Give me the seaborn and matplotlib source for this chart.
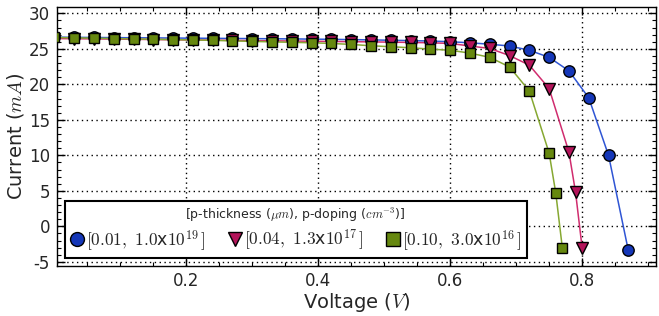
import numpy as np
import pandas as pd
import matplotlib
matplotlib.use("Agg")
import matplotlib.pyplot as plt
from matplotlib.lines import Line2D
from matplotlib.ticker import MultipleLocator
import seaborn as sns

# ================= DATA =================
V_BASE = [0.00, 0.03, 0.06, 0.09, 0.12, 0.15, 0.18, 0.21, 0.24, 0.27, 0.30, 0.33,
          0.36, 0.39, 0.42, 0.45, 0.48, 0.51, 0.54, 0.57, 0.60, 0.63, 0.66, 0.69,
          0.72, 0.75]

v_blue = V_BASE + [0.78, 0.81, 0.84, 0.87]
i_blue = [26.65, 26.62, 26.60, 26.58, 26.56, 26.54, 26.52, 26.50, 26.48, 26.46, 26.44, 26.42,
          26.40, 26.37, 26.34, 26.30, 26.26, 26.21, 26.16, 26.10, 26.00, 25.85, 25.65, 25.40,
          24.80, 23.80, 21.90, 18.10, 10.00, -3.40]

v_red = V_BASE + [0.78, 0.79, 0.80]
i_red = [26.45, 26.42, 26.40, 26.37, 26.34, 26.31, 26.28, 26.25, 26.22, 26.19, 26.16, 26.13,
         26.10, 26.07, 26.04, 26.01, 25.98, 25.94, 25.90, 25.85, 25.76, 25.40, 25.05, 24.05,
         22.70, 19.40, 10.45, 4.80, -3.05]

v_green = V_BASE[:-1] + [0.75, 0.76, 0.77]
i_green = [26.60, 26.55, 26.50, 26.45, 26.40, 26.35, 26.30, 26.25, 26.20, 26.12, 26.05, 25.98,
           25.92, 25.85, 25.76, 25.62, 25.43, 25.30, 25.15, 24.96, 24.80, 24.40, 23.80, 22.45,
           19.05, 10.30, 4.70, -3.05]

series_labels = [r'$[0.01,\ 1.0$x$10^{19}\,]$',
                 r'$[0.04,\ 1.3$x$10^{17}\,]$',
                 r'$[0.10,\ 3.0$x$10^{16}\,]$']
legend_title = r'[p-thickness ($\mu m$), p-doping ($cm^{-3}$)]'

line_colors = ['#2f55d4', '#d02c6e', '#86a832']
face_colors = ['#1537b8', '#b3145a', '#66880f']
marker_list = ['o', 'v', 's']
# ========================================

df = pd.concat([
    pd.DataFrame({'V': v_blue, 'I': i_blue, 'series': series_labels[0]}),
    pd.DataFrame({'V': v_red, 'I': i_red, 'series': series_labels[1]}),
    pd.DataFrame({'V': v_green, 'I': i_green, 'series': series_labels[2]}),
], ignore_index=True)

sns.set_theme(style="white")
plt.rcParams['font.family'] = ['DejaVu Sans']
plt.rcParams['mathtext.fontset'] = 'cm'
plt.rcParams['axes.unicode_minus'] = False

fig = plt.figure(figsize=(6.59, 3.16), dpi=100)
ax = fig.add_axes([0.0865, 0.158, 0.909, 0.82])

# draw each series through seaborn, lines first then marker faces
for k, lab in enumerate(series_labels):
    sub = df[df['series'] == lab]
    sns.lineplot(data=sub, x='V', y='I', ax=ax, color=line_colors[k], lw=1.1,
                 sort=False, estimator=None, legend=False, zorder=2 + k)
    ax.plot(sub['V'], sub['I'], linestyle='none', marker=marker_list[k],
            markersize=8.2 if marker_list[k] != 's' else 7.8,
            markerfacecolor=face_colors[k], markeredgecolor='black',
            markeredgewidth=1.0, zorder=5 + k, clip_on=True)

ax.set_xlim(0.004, 0.912)
ax.set_ylim(-5.6, 30.9)
ax.xaxis.set_major_locator(MultipleLocator(0.2))
ax.xaxis.set_minor_locator(MultipleLocator(0.05))
ax.yaxis.set_major_locator(MultipleLocator(5))
ax.yaxis.set_minor_locator(MultipleLocator(1))
ax.set_xticks([0.2, 0.4, 0.6, 0.8])
ax.set_xticklabels(['0.2', '0.4', '0.6', '0.8'])

ax.tick_params(which='both', direction='in', top=True, right=True,
               bottom=True, left=True, labelsize=12, color='black')
ax.tick_params(axis='x', which='both', pad=4)
ax.tick_params(axis='y', which='both', pad=5)
ax.tick_params(which='major', length=6, width=1)
ax.tick_params(which='minor', length=3, width=0.8)
for sp in ax.spines.values():
    sp.set_color('black')
    sp.set_linewidth(1.0)

ax.grid(True, which='major', linestyle=(0, (1, 2.5)), color='black', linewidth=1.0)
ax.set_axisbelow(True)

ax.set_xlabel(r'Voltage ($V$)', fontsize=14, labelpad=1)
ax.set_ylabel(r'Current ($mA$)', fontsize=14, labelpad=2)

handles = [Line2D([], [], linestyle='none', marker=marker_list[k], markersize=10,
                  markerfacecolor=face_colors[k], markeredgecolor='black', markeredgewidth=1.0)
           for k in range(3)]
leg = ax.legend(handles, series_labels, title=legend_title, ncol=3,
                loc='lower left', bbox_to_anchor=(0.013, 0.031),
                fontsize=12.5, title_fontsize=9.0, frameon=True, fancybox=False,
                handlelength=0.8, handletextpad=0.1, columnspacing=1.3,
                borderpad=0.3, borderaxespad=0.0, labelspacing=0.2)
leg.get_frame().set_edgecolor('black')
leg.get_frame().set_linewidth(1.5)
leg.get_frame().set_facecolor('white')
leg.get_frame().set_alpha(1.0)
leg.set_zorder(20)

fig.savefig("out.png", dpi=100)
